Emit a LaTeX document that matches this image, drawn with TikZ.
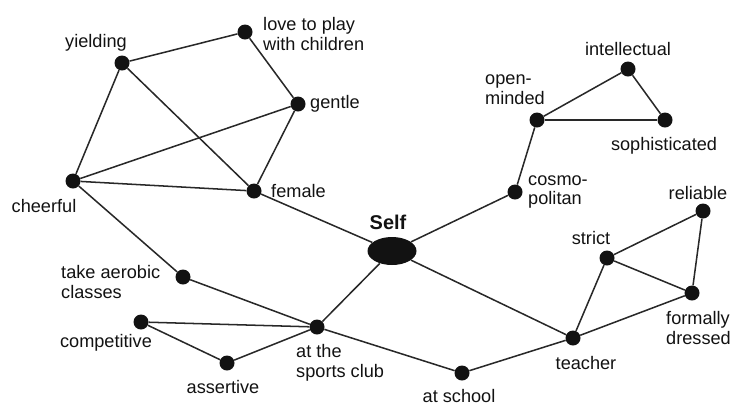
\documentclass[tikz,border=0pt]{standalone}
\usepackage{fontspec}
\setmainfont{Liberation Sans}
\usetikzlibrary{shapes.geometric}
\definecolor{ink}{RGB}{18,18,18}
\definecolor{edgeGray}{RGB}{40,40,40}

\begin{document}
\begin{tikzpicture}[
  x=0.03cm, y=-0.03cm,
  dotnode/.style={circle, fill=ink, inner sep=0pt, minimum size=0.45cm},
  selfnode/.style={ellipse, fill=ink, inner sep=0pt, minimum width=1.47cm, minimum height=0.84cm},
  lbl/.style={font=\fontsize{15.5}{17}\selectfont, text=ink, inner sep=0pt, align=left},
  link/.style={line width=1.3pt, draw=edgeGray}
]
\useasboundingbox (0,0) rectangle (736,406);
\node[selfnode] (self) at (392,251) {};
\foreach \name/\x/\y in {
  yielding/122/63, love/245/32, gentle/298/104, cheerful/73/181, female/254/191,
  aerobic/183/277, club/317/327, competitive/141/322, assertive/227/363,
  school/462/373, teacher/573/338, strict/607/258, formally/692/293, reliable/703/211,
  cosmo/515/192, openminded/537/120, intellectual/628/69, sophisticated/665/120}{
  \node[dotnode] (\name) at (\x,\y) {};
}
\foreach \a/\b in {
  yielding/love, love/gentle, yielding/cheerful, yielding/female, gentle/cheerful,
  gentle/female, cheerful/female, cheerful/aerobic, female/self, aerobic/club,
  self/club, self/cosmo, self/teacher, cosmo/openminded, openminded/intellectual,
  openminded/sophisticated, intellectual/sophisticated, club/competitive,
  competitive/assertive, assertive/club, club/school, school/teacher,
  teacher/strict, teacher/formally, strict/reliable, strict/formally, reliable/formally}{
  \draw[link] (\a) -- (\b);
}
\node[lbl, font=\bfseries\fontsize{17}{19}\selectfont] (l-self) at (388,222) {Self};
\foreach \name/\x/\y/\anc/\txt in {
  yielding/96/43/center/{yielding},
  love/263/34/west/{love to play\\with children},
  gentle/310/104/west/{gentle},
  cheerful/44/206/center/{cheerful},
  female/271/191/west/{female},
  aerobic/61/282/west/{take aerobic\\classes},
  club/296/363/west/{at the\\sports club},
  competitive/106/343/center/{competitive},
  assertive/223/387/center/{assertive},
  school/459/396/center/{at school},
  teacher/586/363/center/{teacher},
  strict/591/238/center/{strict},
  formally/666/328/west/{formally\\dressed},
  reliable/698/193/center/{reliable},
  cosmo/528/192/west/{cosmo-\\politan},
  openminded/485/90/west/{open-\\minded},
  intellectual/628/49/center/{intellectual},
  sophisticated/664/146/center/{sophisticated}}{
  \node[lbl, anchor=\anc] (l-\name) at (\x,\y) {\txt};
}
\end{tikzpicture}
\end{document}
